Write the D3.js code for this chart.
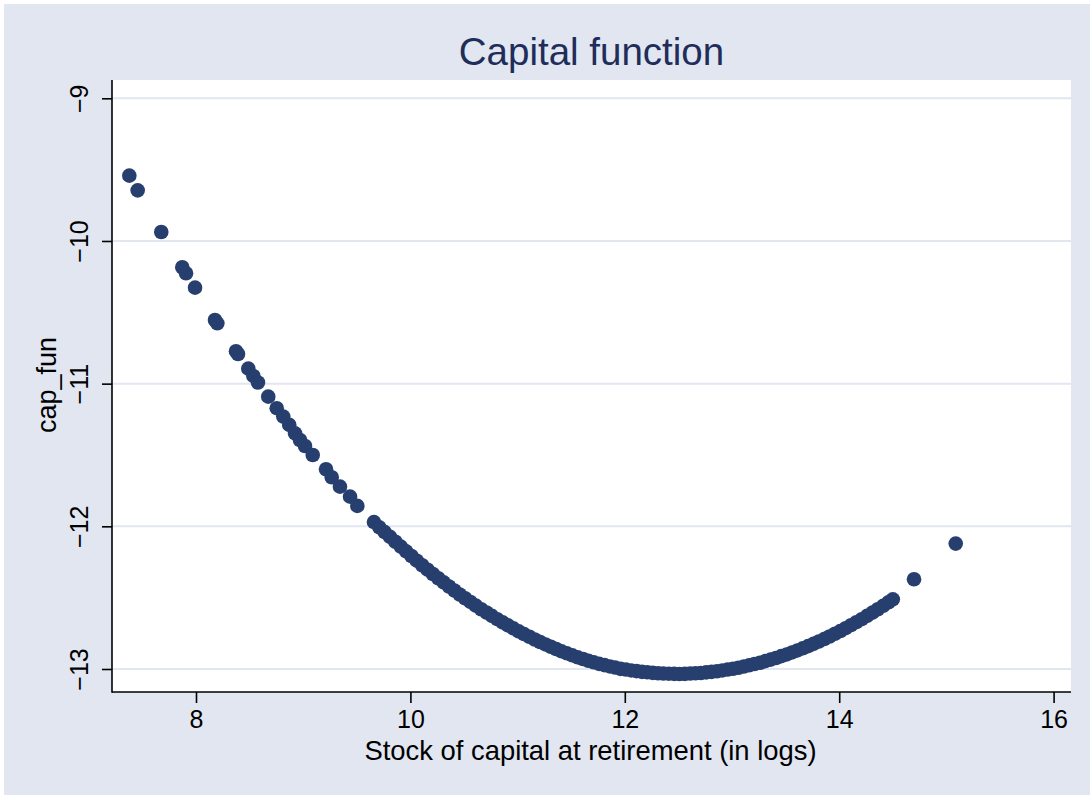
<!DOCTYPE html>
<html>
<head>
<meta charset="utf-8">
<script src="https://cdn.jsdelivr.net/npm/d3@7/dist/d3.min.js"></script>
<style>
  html, body { margin: 0; padding: 0; background: #ffffff; }
  svg { display: block; }
  text { font-family: "Liberation Sans", Arial, Helvetica, sans-serif; }
</style>
</head>
<body>
<svg id="chart" width="1090" height="799"></svg>
<script>
// ---- data ----
const chartTitle = "Capital function";
const xTitle = "Stock of capital at retirement (in logs)";
const yTitle = "cap_fun";
const xTicks = [8, 10, 12, 14, 16];
const yTicks = [-9, -10, -11, -12, -13];

const capStock = [
  7.378, 7.456, 7.676, 7.872, 7.907, 7.991, 8.177, 8.199, 8.373, 8.392,
  8.488, 8.535, 8.578, 8.674, 8.753, 8.814, 8.870, 8.924, 8.970, 9.017,
  9.089, 9.213, 9.266, 9.343, 9.437, 9.505,
  9.66, 9.71, 9.76, 9.81, 9.86, 9.91, 9.96, 10.01, 10.06, 10.11,
  10.16, 10.21, 10.26, 10.31, 10.36, 10.41, 10.46, 10.51, 10.56, 10.61,
  10.66, 10.71, 10.76, 10.81, 10.86, 10.91, 10.96, 11.01, 11.06, 11.11,
  11.16, 11.21, 11.26, 11.31, 11.36, 11.41, 11.46, 11.51, 11.56, 11.61,
  11.66, 11.71, 11.76, 11.81, 11.86, 11.91, 11.96, 12.01, 12.06, 12.11,
  12.16, 12.21, 12.26, 12.31, 12.36, 12.41, 12.46, 12.51, 12.56, 12.61,
  12.66, 12.71, 12.76, 12.81, 12.86, 12.91, 12.96, 13.01, 13.06, 13.11,
  13.16, 13.21, 13.26, 13.31, 13.36, 13.41, 13.46, 13.51, 13.56, 13.61,
  13.66, 13.71, 13.76, 13.81, 13.86, 13.91, 13.96, 14.01, 14.06, 14.11,
  14.16, 14.21, 14.26, 14.31, 14.36, 14.41, 14.46, 14.50,
  14.698, 15.087
];
const capFun = [
  -9.542, -9.645, -9.937, -10.184, -10.226, -10.327, -10.554, -10.577, -10.773, -10.792,
  -10.895, -10.946, -10.992, -11.091, -11.172, -11.231, -11.289, -11.348, -11.395, -11.437,
  -11.500, -11.600, -11.656, -11.722, -11.792, -11.857,
  -11.970, -12.007, -12.041, -12.074, -12.108, -12.142, -12.175, -12.208, -12.241, -12.273,
  -12.304, -12.334, -12.364, -12.393, -12.422, -12.450, -12.478, -12.504, -12.530, -12.556,
  -12.581, -12.604, -12.628, -12.651, -12.673, -12.694, -12.715, -12.736, -12.755, -12.774,
  -12.793, -12.811, -12.828, -12.844, -12.860, -12.876, -12.890, -12.904, -12.918, -12.930,
  -12.942, -12.953, -12.964, -12.973, -12.982, -12.990, -12.999, -13.004, -13.010, -13.015,
  -13.020, -13.023, -13.027, -13.030, -13.032, -13.033, -13.034, -13.035, -13.034, -13.032,
  -13.030, -13.028, -13.024, -13.020, -13.016, -13.010, -13.004, -12.998, -12.991, -12.983,
  -12.974, -12.965, -12.956, -12.945, -12.934, -12.923, -12.910, -12.898, -12.884, -12.870,
  -12.855, -12.840, -12.824, -12.807, -12.790, -12.772, -12.753, -12.734, -12.714, -12.693,
  -12.672, -12.651, -12.628, -12.605, -12.581, -12.557, -12.532, -12.512,
  -12.371, -12.121
];

// ---- layout ----
const W = 1090, H = 799;
const plot = { left: 112, right: 1071, top: 80, bottom: 692 };
const bgColor = "#e1e6f0";
const gridColor = "#e1e6f0";
const markerColor = "#263f6e";
const titleColor = "#1e2d5a";

const svg = d3.select("#chart");

// graph region
svg.append("rect").attr("x", 4).attr("y", 4).attr("width", W - 4).attr("height", H - 8)
  .attr("fill", bgColor);
// plot region
svg.append("rect").attr("x", plot.left).attr("y", plot.top)
  .attr("width", plot.right - plot.left).attr("height", plot.bottom - plot.top)
  .attr("fill", "#ffffff");

const x = d3.scaleLinear().domain([8, 16]).range([196, 1053.6]);
const y = d3.scaleLinear().domain([-9, -13]).range([98.3, 669]);

// gridlines
svg.append("g").selectAll("line").data(yTicks).join("line")
  .attr("x1", plot.left).attr("x2", plot.right)
  .attr("y1", d => y(d)).attr("y2", d => y(d))
  .attr("stroke", gridColor).attr("stroke-width", 2);

// points
const pts = capStock.map((v, i) => ({ x: v, y: capFun[i] }));
svg.append("g").selectAll("circle").data(pts).join("circle")
  .attr("cx", d => x(d.x)).attr("cy", d => y(d.y)).attr("r", 7.3)
  .attr("fill", markerColor);

// axis lines
svg.append("line").attr("x1", plot.left).attr("x2", plot.left)
  .attr("y1", plot.top).attr("y2", plot.bottom + 0.75)
  .attr("stroke", "#000").attr("stroke-width", 1.6);
svg.append("line").attr("x1", plot.left).attr("x2", plot.right)
  .attr("y1", plot.bottom).attr("y2", plot.bottom)
  .attr("stroke", "#000").attr("stroke-width", 1.6);

// y axis
const gy = svg.append("g").attr("transform", `translate(${plot.left},0)`)
  .call(d3.axisLeft(y).tickValues(yTicks).tickSize(10).tickFormat(d3.format("d")));
gy.select(".domain").remove();
gy.selectAll(".tick line").attr("stroke", "#000").attr("stroke-width", 1.6);
gy.selectAll(".tick text")
  .attr("x", 0).attr("dy", 0)
  .attr("transform", "translate(-24,0) rotate(-90)")
  .attr("text-anchor", "middle")
  .attr("fill", "#000")
  .style("font-size", "25px");

// x axis
const gx = svg.append("g").attr("transform", `translate(0,${plot.bottom})`)
  .call(d3.axisBottom(x).tickValues(xTicks).tickSize(11).tickFormat(d3.format("d")));
gx.select(".domain").remove();
gx.selectAll(".tick line").attr("stroke", "#000").attr("stroke-width", 1.6);
gx.selectAll(".tick text")
  .attr("y", 36).attr("dy", 0)
  .attr("fill", "#000")
  .style("font-size", "25px");

// titles
svg.append("text").attr("x", 591.5).attr("y", 65).attr("text-anchor", "middle")
  .attr("fill", titleColor).style("font-size", "38.5px").text(chartTitle);
svg.append("text").attr("x", 590.5).attr("y", 760).attr("text-anchor", "middle")
  .attr("fill", "#000").style("font-size", "27.4px").text(xTitle);
svg.append("text").attr("transform", "translate(56,385) rotate(-90)")
  .attr("text-anchor", "middle").attr("fill", "#000")
  .style("font-size", "27px").text(yTitle);
</script>
</body>
</html>
